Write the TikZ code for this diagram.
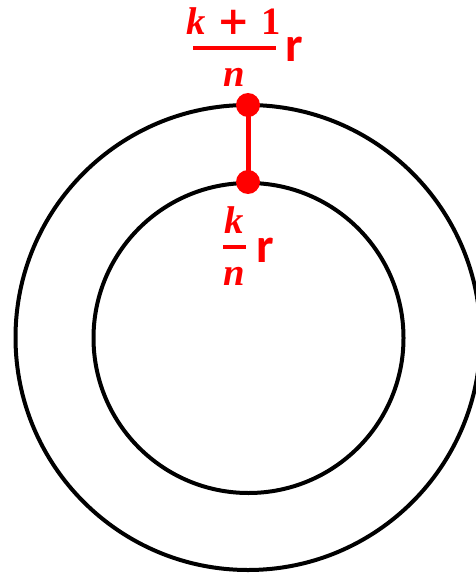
\documentclass[tikz,border=0pt]{standalone}
\usepackage{fontspec}
\newfontfamily\rfont{Carlito}[BoldFont={Carlito Bold}]
\newfontfamily\kfont{Liberation Serif}[BoldFont={Liberation Serif Bold},BoldItalicFont={Liberation Serif Bold Italic}]
\newfontfamily\pfont{DejaVu Serif}[BoldFont={DejaVu Serif Bold}]
\definecolor{myred}{RGB}{255,0,0}
\begin{document}
\begin{tikzpicture}[x=0.75pt,y=-0.75pt,
  ring/.style={draw=black,line width=3pt},
  dot/.style={circle,fill=myred,inner sep=0pt,minimum size=18pt},
  seg/.style={draw=myred,line width=3.75pt},
  mtxt/.style={text=myred,inner sep=0pt,anchor=base,font=\fontsize{29}{32}\selectfont\kfont\bfseries},
  rtxt/.style={text=myred,inner sep=0pt,anchor=base,font=\fontsize{37}{40}\selectfont\rfont\bfseries},
  bar/.style={draw=myred,line width=3pt}]
\useasboundingbox (0,0) rectangle (475,574);
\draw[ring] (248,337.5) circle[radius=232.5];
\draw[ring] (248.5,338) circle[radius=155];
\node[dot] (top) at (248,105) {};
\node[dot] (bot) at (248,182) {};
\draw[seg] (top.center) -- (bot.center);
% upper label
\node[mtxt] (num1) at (234,35) {\itshape k\upshape\hspace{0.3em}{\pfont\bfseries +}\hspace{0.3em}1};
\node[mtxt] (den1) at (234,87) {\itshape n};
\coordinate (b1l) at (193,48.5);
\coordinate (b1r) at (276,48.5);
\draw[bar] (b1l) -- (b1r);
\node[rtxt] (r1) at (294.5,62) {r};
% lower label
\node[mtxt] (num2) at (234.5,233) {\itshape k};
\node[mtxt] (den2) at (234.5,285) {\itshape n};
\coordinate (b2l) at (223,247);
\coordinate (b2r) at (246,247);
\draw[bar] (b2l) -- (b2r);
\node[rtxt] (r2) at (265,262) {r};
\end{tikzpicture}
\end{document}
